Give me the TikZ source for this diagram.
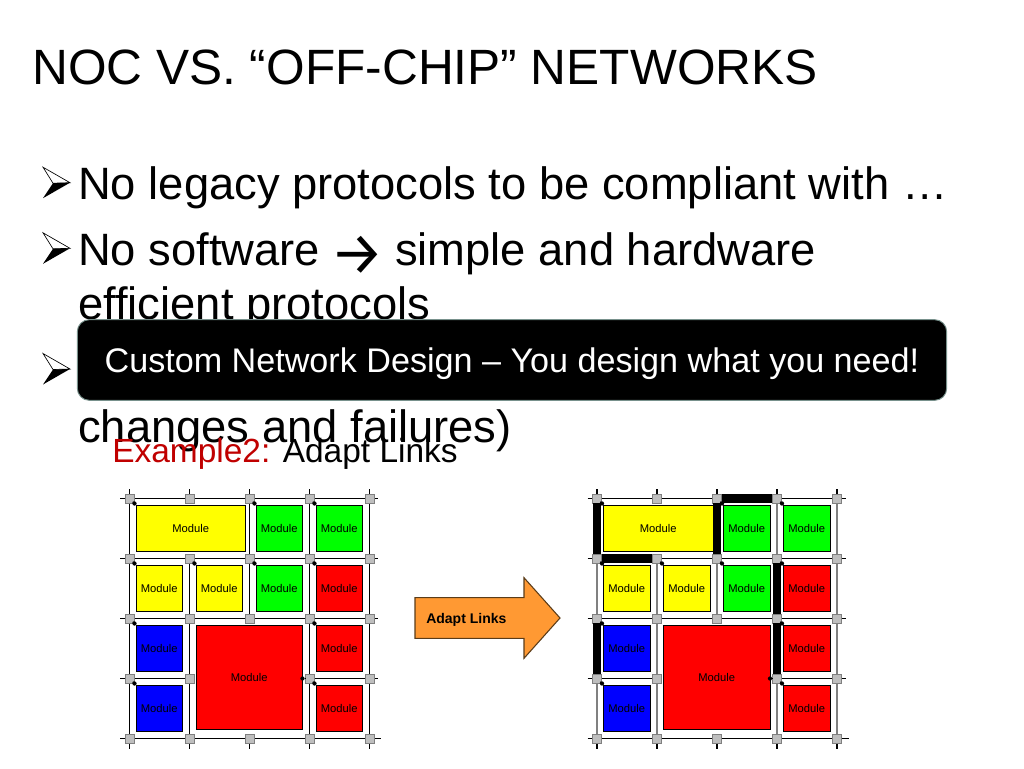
\documentclass[tikz,border=0pt]{standalone}
\usepackage{fontspec}
\setmainfont{Liberation Sans}
\newfontfamily\arrowfont{Fira Sans}
\definecolor{routergray}{RGB}{190,190,190}
\definecolor{arroworange}{RGB}{255,153,51}
\definecolor{arrowedge}{RGB}{90,60,25}
\definecolor{examplered}{RGB}{192,0,0}
\definecolor{boxedge}{RGB}{120,145,140}
\definecolor{linkgray}{RGB}{128,128,128}
\definecolor{modyellow}{RGB}{255,255,0}
\definecolor{modgreen}{RGB}{0,255,0}
\definecolor{modred}{RGB}{255,0,0}
\definecolor{modblue}{RGB}{0,0,255}
\tikzset{
  x=0.75pt,y=-0.75pt,
  titletext/.style={anchor=base west,inner sep=0pt,font=\fontsize{37.2}{37.2}\selectfont},
  bodytext/.style={anchor=base west,inner sep=0pt,font=\fontsize{34}{34}\selectfont},
  router/.style={draw=gray,line width=0.3pt,fill=routergray,minimum size=6.8pt,inner sep=0pt},
  gridline/.style={line width=0.9pt,draw=black},
  graylink/.style={line width=1.5pt,draw=linkgray},
  thicklink/.style={line width=6.2pt,draw=black},
  modbox/.style={draw=black,line width=0.6pt,inner sep=0pt,font=\fontsize{8.4}{8.4}\selectfont},
  tapdot/.style={circle,fill=black,inner sep=0pt,minimum size=3.2pt},
  taplink/.style={line width=1pt,draw=black},
}
\newcommand{\modrect}[6]{% name x0 y0 x1 y1 colour
  \node[modbox,fill=#6,minimum width={(#4-#2)*0.75pt},minimum height={(#5-#3)*0.75pt}] (#1) at ({(#2+#4)/2},{(#3+#5)/2}) {Module};
}
\newcommand{\taplink}[4]{% name x y router
  \node[tapdot] (#1) at (#2,#3) {};
  \draw[taplink] (#1) -- (#4);
}
\newcommand{\bulletmark}[1]{% #1 = y of the tip
  \begin{scope}[shift={(43,#1)}]
    \draw[black,fill=white,line width=0.5pt] (0,-15.5) -- (27,0) -- (10,0.5) -- cycle;
    \fill[black] (0,15.5) -- (27,0) -- (10,0.5) -- cycle;
  \end{scope}
}
\newcommand{\meshdiagram}[3]{% prefix, x shift, y = grey vertical wires
\begin{scope}[shift={(#2,0)}]
  \foreach \n/\px/\py in {a/129.5/498.5,b/189.5/498.5,c/249.5/498.5,d/309.5/498.5,e/369.5/498.5,
    f/129.5/558.5,g/189.5/558.5,h/249.5/558.5,i/309.5/558.5,j/369.5/558.5,
    k/129.5/618.5,l/189.5/618.5,m/249.5/618.5,n/309.5/618.5,o/369.5/618.5,
    p/129.5/678.5,q/189.5/678.5,r/309.5/678.5,s/369.5/678.5,
    t/129.5/738.5,u/189.5/738.5,v/249.5/738.5,w/309.5/738.5,y/369.5/738.5}{
    \node[router] (#1\n) at (\px,\py) {};
  }
  \coordinate (#1ha) at (120,498.5); \coordinate (#1hb) at (378,498.5);
  \coordinate (#1hc) at (120,558.5); \coordinate (#1hd) at (378,558.5);
  \coordinate (#1he) at (120,618.5); \coordinate (#1hf) at (378,618.5);
  \coordinate (#1hg) at (120,678.5); \coordinate (#1hh) at (378,678.5);
  \coordinate (#1hi) at (120,738.5); \coordinate (#1hj) at (381,738.5);
  \coordinate (#1va) at (129.5,489); \coordinate (#1vb) at (129.5,748.5);
  \coordinate (#1vc) at (189.5,489); \coordinate (#1vd) at (189.5,748.5);
  \coordinate (#1ve) at (249.5,489); \coordinate (#1vf) at (249.5,748.5);
  \coordinate (#1vg) at (309.5,489); \coordinate (#1vh) at (309.5,748.5);
  \coordinate (#1vi) at (369.5,489); \coordinate (#1vj) at (369.5,748.5);
  \draw[gridline] (#1ha) -- (#1hb);
  \draw[gridline] (#1hc) -- (#1hd);
  \draw[gridline] (#1he) -- (#1hf);
  \draw[gridline] (#1hg) -- (#1q);
  \draw[gridline] (#1r) -- (#1hh);
  \draw[gridline] (#1hi) -- (#1hj);
  \draw[gridline] (#1va) -- (#1vb);
  \draw[gridline] (#1vc) -- (#1b);
  \draw[gridline] (#1g) -- (#1vd);
  \draw[gridline] (#1ve) -- (#1m);
  \draw[gridline] (#1v) -- (#1vf);
  \draw[gridline] (#1vg) -- (#1vh);
  \draw[gridline] (#1vi) -- (#1vj);
  \ifx#3y
    \draw[graylink] (#1a) -- (#1t);
    \draw[graylink] (#1g) -- (#1u);
    \draw[graylink] (#1c) -- (#1m);
    \draw[graylink] (#1d) -- (#1w);
    \draw[graylink] (#1e) -- (#1y);
  \fi
  \modrect{#1m1}{136}{505.7}{245.5}{551}{modyellow}
  \modrect{#1m2}{256}{505.7}{302.5}{551}{modgreen}
  \modrect{#1m3}{316}{505.7}{362.5}{551}{modgreen}
  \modrect{#1m4}{136}{565.5}{182.5}{611}{modyellow}
  \modrect{#1m5}{196}{565.5}{242.5}{611}{modyellow}
  \modrect{#1m6}{256}{565.5}{302.5}{611}{modgreen}
  \modrect{#1m7}{316}{565.5}{362.5}{611}{modred}
  \modrect{#1m8}{136}{625.7}{182.5}{671.7}{modblue}
  \modrect{#1m9}{196}{625.7}{302.5}{729.5}{modred}
  \modrect{#1m10}{316}{625.7}{362.5}{671.7}{modred}
  \modrect{#1m11}{136}{685.7}{182.5}{731.5}{modblue}
  \modrect{#1m12}{316}{685.7}{362.5}{731.5}{modred}
  \foreach \n/\px/\py in {a/129.5/498.5,b/189.5/498.5,c/249.5/498.5,d/309.5/498.5,e/369.5/498.5,
    f/129.5/558.5,g/189.5/558.5,h/249.5/558.5,i/309.5/558.5,j/369.5/558.5,
    k/129.5/618.5,l/189.5/618.5,m/249.5/618.5,n/309.5/618.5,o/369.5/618.5,
    p/129.5/678.5,q/189.5/678.5,r/309.5/678.5,s/369.5/678.5,
    t/129.5/738.5,u/189.5/738.5,v/249.5/738.5,w/309.5/738.5,y/369.5/738.5}{
    \node[router] at (\px,\py) {};
  }
  \taplink{#1t1}{134.5}{503.5}{#1a}
  \taplink{#1t2}{254.5}{503.5}{#1c}
  \taplink{#1t3}{314.5}{503.5}{#1d}
  \taplink{#1t4}{134.5}{563.5}{#1f}
  \taplink{#1t5}{194.5}{563.5}{#1g}
  \taplink{#1t6}{254.5}{563.5}{#1h}
  \taplink{#1t7}{314.5}{563.5}{#1i}
  \taplink{#1t8}{134.5}{623.5}{#1k}
  \taplink{#1t9}{314.5}{623.5}{#1n}
  \taplink{#1t10}{134.5}{683.5}{#1p}
  \taplink{#1t11}{314.5}{683.5}{#1r}
  \taplink{#1t12}{302.5}{678.5}{#1r}
\end{scope}
}
\begin{document}
\begin{tikzpicture}
\useasboundingbox (0,0) rectangle (1024,768);
\fill[white] (0,0) rectangle (1024,768);
\node[titletext] (title) at (32,84.5) {NOC VS. “OFF-CHIP” NETWORKS};
\bulletmark{182.7}
\node[bodytext] (t1) at (78,199.5) {No legacy protocols to be compliant with …};
\bulletmark{248.3}
\node[bodytext] (t2) at (78,265) {No software\hspace{-1.6pt} \raisebox{-7pt}{\arrowfont\fontsize{45}{45}\selectfont →}\hspace{-1.6pt} simple and hardware};
\node[bodytext] (t2b) at (78,319) {efficient protocols};
\bulletmark{369}
\node[bodytext] (t3) at (78,442.5) {changes and failures)};
\node[anchor=base west,inner sep=0pt,font=\fontsize{25.1}{25.1}\selectfont] (ex) at (112,462) {\textcolor{examplered}{Example2:} Adapt Links};
\node[draw=boxedge,fill=black,rounded corners=9pt,line width=0.7pt,minimum width=652pt,minimum height=60.5pt,inner sep=0pt] (banner) at (512,360) {};
\node[text=white,font=\fontsize{25.6}{25.6}\selectfont,inner sep=0pt,anchor=base] (bannertext) at (512,372.5) {Custom Network Design – You design what you need!};
\meshdiagram{L}{0}{n}
\meshdiagram{R}{467.5}{y}
\draw[thicklink] (Ra) -- (Rf);
\draw[thicklink] (Rc) -- (Rh);
\draw[thicklink] (Rc) -- (Rd);
\draw[thicklink] (Rf) -- (Rg);
\draw[thicklink] (Ri) -- (Rn);
\draw[thicklink] (Rn) -- (Rr);
\draw[thicklink] (Rk) -- (Rp);
\draw[draw=arrowedge,fill=arroworange,line width=0.8pt] (415,597.7) -- (524,597.7) -- (524,577.7) -- (560,618) -- (524,658.3) -- (524,638.3) -- (415,638.3) -- cycle;
\node[anchor=base west,inner sep=0pt,font=\bfseries\fontsize{10.5}{10.5}\selectfont] (adapt) at (426,623.5) {Adapt Links};
\end{tikzpicture}
\end{document}
